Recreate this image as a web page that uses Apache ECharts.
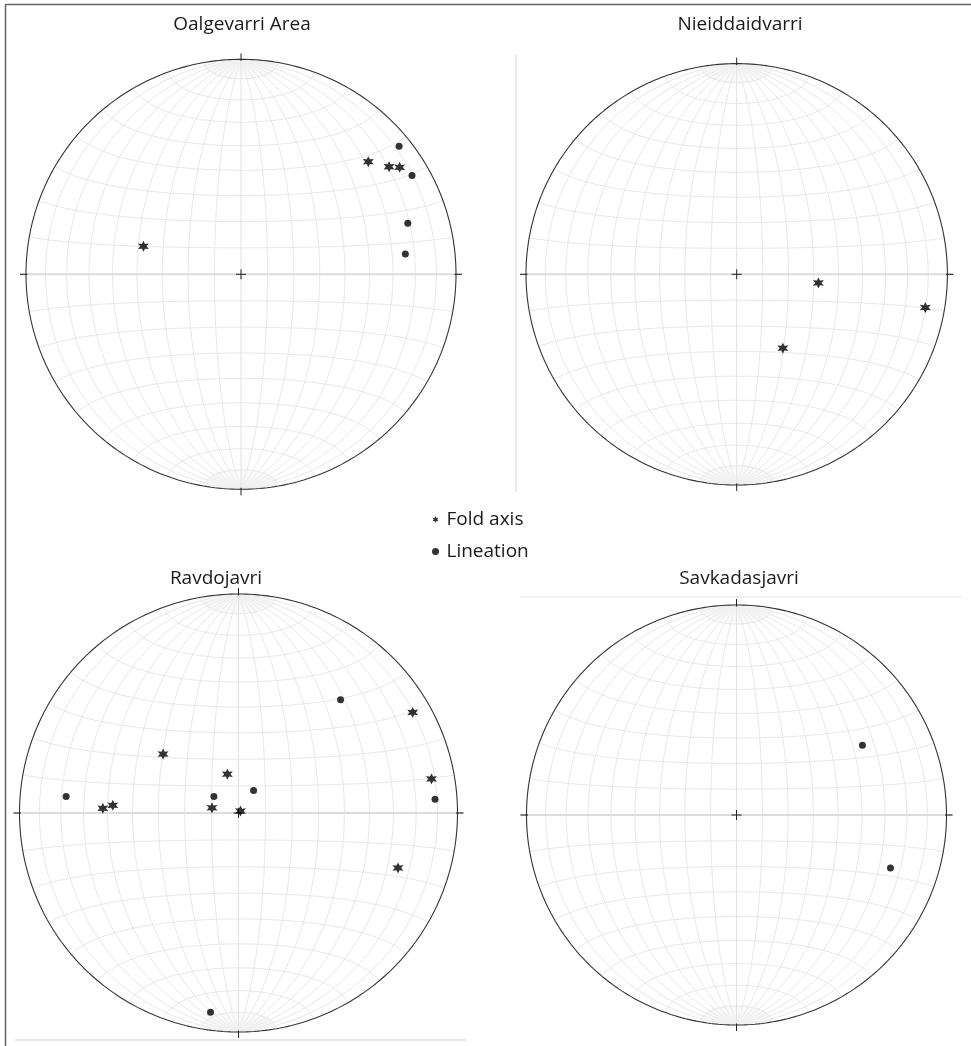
<!DOCTYPE html>
<html>
<head>
<meta charset="utf-8">
<script src="https://cdn.jsdelivr.net/npm/echarts@6/dist/echarts.min.js"></script>
<style>
html,body{margin:0;padding:0;background:#fff;}
#chart{width:971px;height:1046px;}
</style>
</head>
<body>
<div id="chart"></div>
<script>
// ---- data: [trend, plunge] in degrees (lower hemisphere, equal-area net) ----
const netTitles = ['Oalgevarri Area', 'Nieiddaidvarri', 'Ravdojavri', 'Savkadasjavri'];
const legendNames = ['Fold axis', 'Lineation'];

const oalgevarriFold = [[286, 51], [48.5, 22], [54, 16], [56, 12]];
const oalgevarriLin = [[51, 6], [60, 9], [73, 20], [83, 24]];

const nieiddaidvarriFold = [[96, 58], [100, 10], [148, 56]];
const nieiddaidvarriLin = [];

const ravdojavriFold = [[60, 9], [308, 54], [344, 75], [80, 11.5], [272, 38], [273.5, 42], [281, 80], [46, 89], [109, 24]];
const ravdojavriLin = [[42, 31], [34, 80], [86, 11], [275.5, 22], [304, 79], [188, 9]];

const savkadasjavriFold = [];
const savkadasjavriLin = [[61, 32], [109, 23.5]];

// ---- layout ----
const nets = [
  {cx: 241,   cy: 274.3, R: 215,   tx: 242, ty: 27,  fold: oalgevarriFold,     lin: oalgevarriLin},
  {cx: 736.7, cy: 274.3, R: 210.7, tx: 740, ty: 27,  fold: nieiddaidvarriFold, lin: nieiddaidvarriLin},
  {cx: 238.5, cy: 813,   R: 219,   tx: 216, ty: 581, fold: ravdojavriFold,     lin: ravdojavriLin},
  {cx: 736.5, cy: 815,   R: 210,   tx: 739, ty: 581, fold: savkadasjavriFold,  lin: savkadasjavriLin}
];

const STAR = 'path://M0,-10 L2.5,-4.33 L8.66,-5 L5,0 L8.66,5 L2.5,4.33 L0,10 L-2.5,4.33 L-8.66,5 L-5,0 L-8.66,-5 L-2.5,-4.33 Z';
const D2R = Math.PI / 180;
const EXT = 1.05;

// equal-area projection of a line (trend, plunge)
function projLine(tp) {
  const t = tp[0] * D2R, p = tp[1] * D2R;
  const r = Math.SQRT2 * Math.sin((Math.PI / 2 - p) / 2);
  return [r * Math.sin(t), r * Math.cos(t)];
}
// net point with longitude lam, latitude phi
function netPt(lam, phi) {
  const l = lam * D2R, f = phi * D2R;
  const X = Math.cos(f) * Math.sin(l), Y = Math.sin(f), Z = Math.cos(f) * Math.cos(l);
  const k = 1 / Math.sqrt(1 + Z);
  return [X * k, Y * k];
}

const grids = [], xAxes = [], yAxes = [], series = [], titles = [];
const gridColor = '#e8e8e8';

nets.forEach((n, i) => {
  grids.push({left: n.cx - EXT * n.R, top: n.cy - EXT * n.R, width: 2 * EXT * n.R, height: 2 * EXT * n.R});
  xAxes.push({gridIndex: i, type: 'value', min: -EXT, max: EXT, show: false});
  yAxes.push({gridIndex: i, type: 'value', min: -EXT, max: EXT, show: false});
  titles.push({text: netTitles[i], left: n.tx, top: n.ty - 12, textAlign: 'center', padding: 0,
    textStyle: {fontSize: 19, fontWeight: 'normal', fontFamily: 'Open Sans', color: '#1a1a1a'}});

  const addLine = (data, color, width, z) => series.push({
    type: 'line', xAxisIndex: i, yAxisIndex: i, data, symbol: 'none', silent: true,
    animation: false, lineStyle: {color, width}, z: z || 1, clip: false
  });
  // meridians (great circles) every 10 degrees
  for (let lam = -80; lam <= 80; lam += 10) {
    if (lam === 0) continue;
    const d = [];
    for (let phi = -90; phi <= 90; phi += 2) d.push(netPt(lam, phi));
    addLine(d, gridColor, 1);
  }
  // polar fan: 2-degree meridians near poles
  for (let lam = -88; lam <= 88; lam += 2) {
    if (lam % 10 === 0) continue;
    const a = [], b = [];
    for (let phi = 80; phi <= 89; phi += 1) { a.push(netPt(lam, phi)); b.push(netPt(lam, -phi)); }
    addLine(a, '#f0f0f0', 0.5);
    addLine(b, '#f0f0f0', 0.5);
  }
  // small circles every 10 degrees
  for (let phi = -80; phi <= 80; phi += 10) {
    if (phi === 0) continue;
    const d = [];
    for (let lam = -90; lam <= 90; lam += 2) d.push(netPt(lam, phi));
    addLine(d, gridColor, 1);
  }
  // diameters
  const e = 1 + 6 / n.R;
  addLine([[-e, 0], [e, 0]], '#dcdcdc', 2, 2);
  addLine([[0, -1], [0, 1]], '#e2e2e2', 1, 2);
  // primitive circle
  const prim = [];
  for (let a = 0; a <= 360; a += 1) prim.push([Math.cos(a * D2R), Math.sin(a * D2R)]);
  addLine(prim, '#333', 1.1, 3);
  // N,S,E,W ticks
  const t0 = 1 - 1.5 / n.R;
  addLine([[0, t0], [0, e]], '#222', 1, 3);
  addLine([[0, -t0], [0, -e]], '#222', 1, 3);
  addLine([[t0, 0], [e, 0]], '#222', 1, 3);
  addLine([[-t0, 0], [-e, 0]], '#222', 1, 3);
  // center cross
  const c = 5 / n.R;
  addLine([[-c, 0], [c, 0]], '#222', 1, 3);
  addLine([[0, -c], [0, c]], '#222', 1, 3);

  series.push({
    name: legendNames[0], type: 'scatter', xAxisIndex: i, yAxisIndex: i,
    data: n.fold.map(projLine), symbol: STAR, symbolSize: 11, z: 5, animation: false,
    itemStyle: {color: '#000'}
  });
  series.push({
    name: legendNames[1], type: 'scatter', xAxisIndex: i, yAxisIndex: i,
    data: n.lin.map(projLine), symbol: 'circle', symbolSize: 7, z: 5, animation: false,
    itemStyle: {color: '#000'}
  });
});

const chart = echarts.init(document.getElementById('chart'), null, {renderer: 'canvas'});
chart.setOption({
  backgroundColor: '#fff',
  animation: false,
  title: titles,
  grid: grids,
  xAxis: xAxes,
  yAxis: yAxes,
  legend: {
    orient: 'vertical', left: 427, top: 505, itemWidth: 12, itemHeight: 7, itemGap: 13,
    selectedMode: false,
    textStyle: {fontSize: 19, fontFamily: 'Open Sans', color: '#1a1a1a'},
    data: [{name: legendNames[0], icon: STAR}, {name: legendNames[1], icon: 'circle'}]
  },
  graphic: [
    {type: 'line', shape: {x1: 5.5, y1: 4.5, x2: 971, y2: 4.5}, style: {stroke: '#666', lineWidth: 1.5}, silent: true},
    {type: 'line', shape: {x1: 5.5, y1: 4, x2: 5.5, y2: 1046}, style: {stroke: '#666', lineWidth: 1.5}, silent: true},
    {type: 'line', shape: {x1: 15, y1: 1040, x2: 466, y2: 1040}, style: {stroke: '#e8e8e8', lineWidth: 2}, silent: true},
    {type: 'line', shape: {x1: 516, y1: 55, x2: 516, y2: 492}, style: {stroke: '#e6e6e6', lineWidth: 1.5}, silent: true},
    {type: 'line', shape: {x1: 520, y1: 597, x2: 962, y2: 597}, style: {stroke: '#ececec', lineWidth: 1.5}, silent: true}
  ],
  series: series
});
</script>
</body>
</html>
